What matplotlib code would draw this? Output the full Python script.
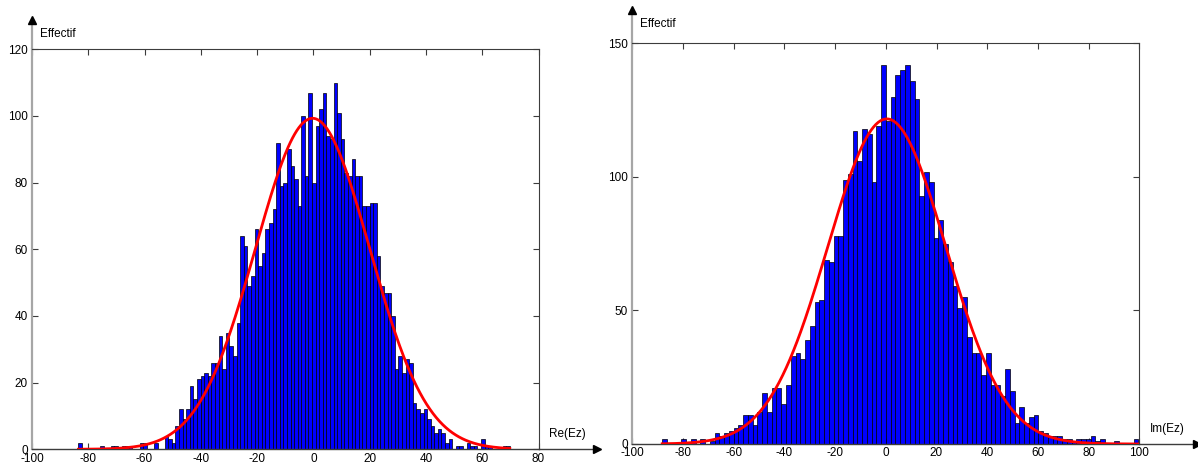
import numpy as np
import matplotlib
matplotlib.use("Agg")
import matplotlib.pyplot as plt

plt.rcParams['font.family'] = ['Liberation Sans', 'DejaVu Sans']
plt.rcParams['axes.unicode_minus'] = False

# ---- Re(Ez): histogram counts (equal-width bins over [RE_MIN, RE_MAX]) ----
RE_MIN, RE_MAX = -83.5, 69.8
re_counts = [2, 0, 0, 0, 0, 0, 1, 0, 0, 1, 1, 0, 1, 1, 1, 0, 0, 2, 2, 0,
             0, 2, 0, 0, 4, 3, 2, 7, 12, 9, 12, 19, 15, 21, 22, 23, 22, 26, 26, 34,
             24, 35, 31, 28, 38, 64, 61, 49, 52, 66, 55, 59, 66, 68, 72, 92, 79, 80, 90, 85,
             81, 73, 100, 82, 107, 80, 97, 102, 107, 94, 93, 110, 101, 93, 83, 82, 87, 82, 82, 73,
             73, 74, 74, 58, 49, 47, 47, 40, 24, 28, 23, 27, 26, 14, 12, 11, 12, 9, 7, 5,
             6, 5, 2, 3, 0, 1, 1, 0, 2, 1, 1, 0, 3, 1, 1, 0, 0, 0, 1, 1]
# fitted normal curve: mean, standard deviation, peak height
re_fit = (-0.3, 20.3, 99.3)

# ---- Im(Ez): histogram counts ----
IM_MIN, IM_MAX = -88.2, 99.6
im_counts = [2, 0, 0, 0, 2, 0, 2, 0, 2, 0, 1, 4, 3, 4, 5, 6, 7, 11, 11, 7,
             12, 19, 12, 21, 21, 15, 22, 33, 34, 32, 39, 44, 53, 54, 69, 68, 78, 78, 99, 101,
             117, 106, 118, 116, 98, 119, 142, 121, 130, 138, 140, 142, 136, 129, 93, 102, 98, 77, 84, 75,
             68, 59, 51, 55, 40, 34, 34, 26, 34, 22, 22, 18, 28, 20, 8, 14, 8, 10, 11, 5,
             4, 3, 3, 3, 2, 2, 1, 2, 2, 2, 3, 1, 2, 0, 0, 1, 0, 0, 0, 2]
im_fit = (0.4, 23.3, 121.7)

re_xticks = list(range(-100, 81, 20))
re_yticks = list(range(0, 121, 20))
im_xticks = list(range(-100, 101, 20))
im_yticks = [0, 50, 100, 150]

BAR_COLOR = '#0000FF'
FIT_COLOR = '#FF0000'
FRAME_COLOR = '#3C3C3C'
YAXIS_COLOR = '#A6A6A6'

fig = plt.figure(figsize=(11.98, 4.63), dpi=100)
W, H = 1198, 463


def panel(rect_px, counts, lo, hi, fit, xlim, ylim, xticks, yticks,
          xlabel, ytip, xtip):
    x0, y0, x1, y1 = rect_px
    ax = fig.add_axes([x0 / W, 1 - y1 / H, (x1 - x0) / W, (y1 - y0) / H])
    counts = np.asarray(counts, dtype=float)
    edges = np.linspace(lo, hi, len(counts) + 1)
    ax.bar(edges[:-1], counts, width=np.diff(edges), align='edge',
           color=BAR_COLOR, edgecolor='black', linewidth=0.5, zorder=2)
    mu, sd, peak = fit
    xs = np.linspace(lo, hi, 400)
    ax.plot(xs, peak * np.exp(-0.5 * ((xs - mu) / sd) ** 2),
            color=FIT_COLOR, lw=2, zorder=3)
    ax.set_xlim(*xlim)
    ax.set_ylim(*ylim)
    ax.set_xticks(xticks)
    ax.set_yticks(yticks)
    ax.tick_params(direction='in', top=True, right=True, length=4,
                   width=0.8, color=FRAME_COLOR, labelsize=8.5)
    ax.tick_params(axis='x', pad=2.5)
    ax.tick_params(axis='y', pad=3)
    for s in ('top', 'right'):
        ax.spines[s].set_color(FRAME_COLOR)
        ax.spines[s].set_linewidth(0.8)
    ax.spines['bottom'].set_color(FRAME_COLOR)
    ax.spines['bottom'].set_linewidth(1.0)
    ax.spines['left'].set_color(YAXIS_COLOR)
    ax.spines['left'].set_linewidth(1.6)
    # axis lines extended beyond the frame and ending with arrow heads
    ax.plot([0, 0], [1, ytip], transform=ax.transAxes, color=YAXIS_COLOR,
            lw=1.6, clip_on=False, solid_capstyle='butt')
    ax.plot([0], [ytip], transform=ax.transAxes, marker='^', ms=6,
            color='black', clip_on=False)
    ax.plot([1, xtip], [0, 0], transform=ax.transAxes, color=FRAME_COLOR,
            lw=1.0, clip_on=False)
    ax.plot([xtip], [0], transform=ax.transAxes, marker='>', ms=6,
            color='black', clip_on=False)
    ax.text(0.016, ytip - 0.035, 'Effectif', transform=ax.transAxes,
            fontsize=8.5, va='center', ha='left')
    ax.text(1.02, 0.037, xlabel, transform=ax.transAxes, fontsize=8.5,
            va='center', ha='left')
    return ax


panel((32, 49.3, 538.5, 449.3), re_counts, RE_MIN, RE_MAX, re_fit,
      (-100, 80), (0, 120), re_xticks, re_yticks, 'Re(Ez)', 1.073, 1.115)
panel((632.3, 43.3, 1139.3, 444), im_counts, IM_MIN, IM_MAX, im_fit,
      (-100, 100), (0, 150), im_xticks, im_yticks, 'Im(Ez)', 1.083, 1.114)

fig.savefig('out.png', dpi=100)
